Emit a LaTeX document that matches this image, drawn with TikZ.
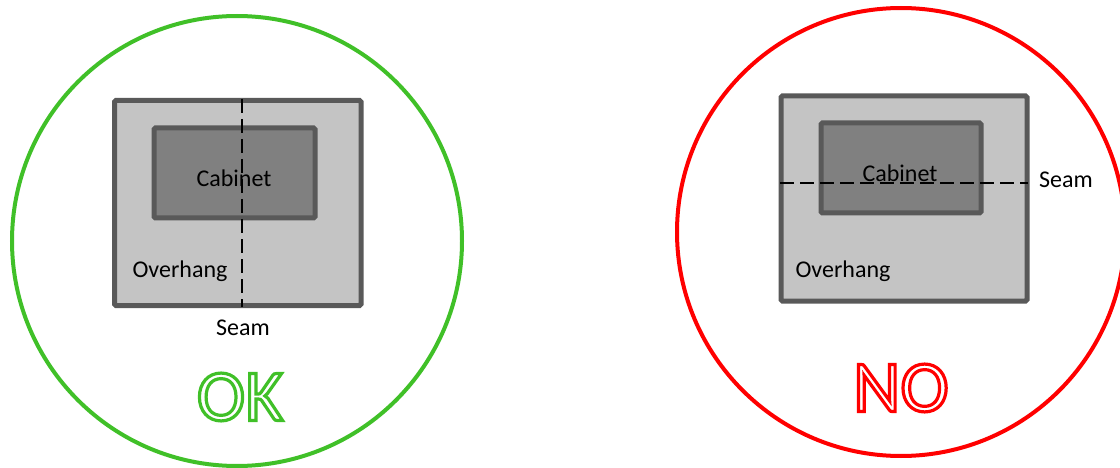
\documentclass[tikz,border=0pt]{standalone}
\usepackage{fontspec}
\setmainfont{Carlito}
\definecolor{okgreen}{RGB}{64,192,40}
\definecolor{nored}{RGB}{255,0,0}
\definecolor{slabfill}{RGB}{196,196,196}
\definecolor{cabfill}{RGB}{128,128,128}
\definecolor{edgegray}{RGB}{89,89,89}
\newcommand{\outlinetext}[1]{\special{pdf:literal direct 1 Tr 3.2 w}#1\special{pdf:literal direct 0 Tr}}
\tikzset{
  ring/.style={circle, draw, line width=4pt, inner sep=0pt},
  slab/.style={rectangle, draw=edgegray, fill=slabfill, line width=5pt, rounded corners=1.5pt, inner sep=0pt},
  cab/.style={rectangle, draw=edgegray, fill=cabfill, line width=5pt, rounded corners=1.5pt, inner sep=0pt},
  lbl/.style={font=\fontsize{24}{28}\selectfont, inner sep=0pt, text=black},
  seamline/.style={line width=2pt, dash pattern=on 14pt off 6pt, black},
  verdict/.style={font=\fontsize{73}{80}\selectfont, inner sep=0pt}
}
\begin{document}
\begin{tikzpicture}[x=1pt,y=-1pt]
\useasboundingbox (0,0) rectangle (1120,468);
\clip (0,0) rectangle (1120,468);
% left (OK)
\node[ring, draw=okgreen, minimum size=450pt] (okc) at (237,241) {};
\node[slab, minimum width=246.5pt, minimum height=205pt] (lslab) at (237.75,203) {};
\node[cab, minimum width=161pt, minimum height=90pt] (lcab) at (234.5,173) {};
\node[lbl] (lcabt) at (234,178) {Cabinet};
\node[lbl] (lover) at (180,271) {Overhang};
\coordinate (ls1) at (241.7,99);
\coordinate (ls2) at (241.7,307);
\draw[seamline] (ls1) -- (ls2);
\node[lbl] (lseam) at (243,328) {Seam};
\node[verdict, text=okgreen] (ok) at (240,397) {\outlinetext{OK}};
% right (NO)
\node[ring, draw=nored, minimum size=448pt] (noc) at (901,232) {};
\node[slab, minimum width=246pt, minimum height=205pt] (rslab) at (904,198.5) {};
\node[cab, minimum width=160pt, minimum height=90pt] (rcab) at (901,168) {};
\node[lbl] (rcabt) at (900,173) {Cabinet};
\node[lbl] (rover) at (843,271) {Overhang};
\coordinate (rs1) at (780,182.7);
\coordinate (rs2) at (1028,182.7);
\draw[seamline] (rs1) -- (rs2);
\node[lbl] (rseam) at (1066,180) {Seam};
\node[verdict, text=nored] (no) at (901,388) {\outlinetext{NO}};
\end{tikzpicture}
\end{document}
